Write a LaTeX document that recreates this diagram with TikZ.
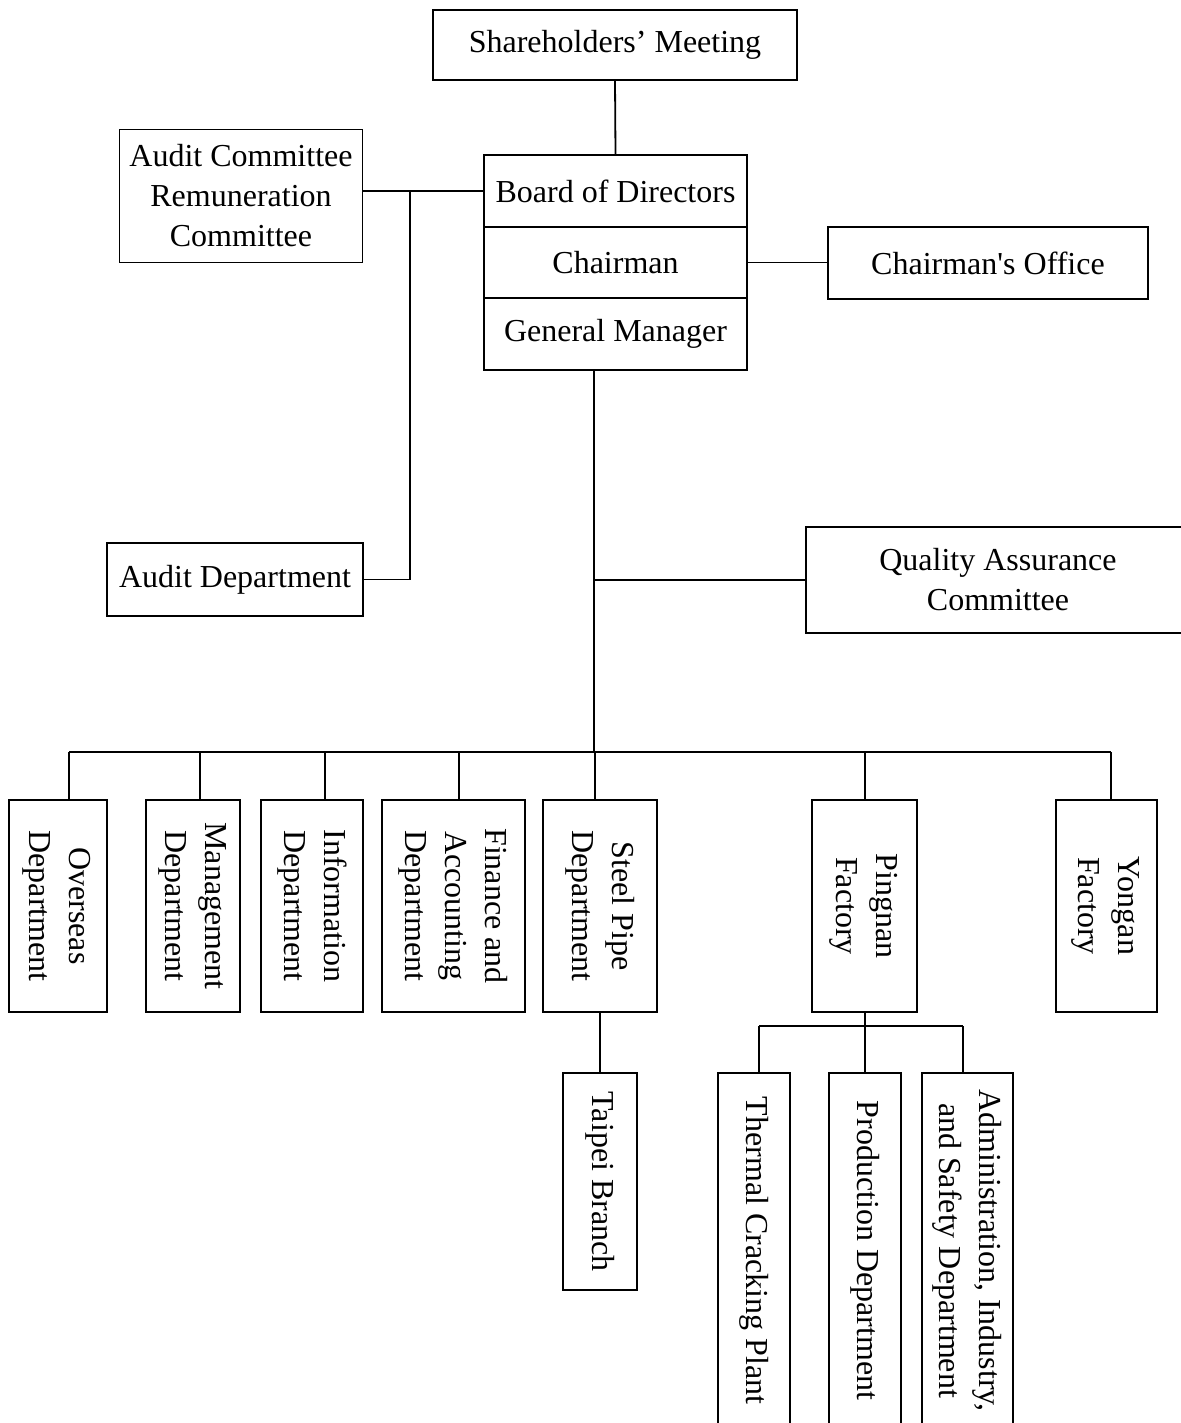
\documentclass[tikz,border=0pt]{standalone}
\usepackage{fontspec}
\setmainfont{Liberation Serif}
\usepackage{graphicx}
\newcommand{\vtext}[1]{\rotatebox{-90}{\begin{tabular}{@{}c@{}}#1\end{tabular}}}
\begin{document}
\begin{tikzpicture}[x=0.5pt,y=-0.5pt,
  box/.style={draw, line width=0.9pt, inner sep=0pt, align=center, fill=white,
    font=\fontsize{16}{20}\selectfont},
  link/.style={line width=0.9pt}]
\useasboundingbox (0,0) rectangle (1181,1423);
% top
\node[box, minimum width=182pt, minimum height=35pt] (sh) at (615,45) {Shareholders' Meeting};
\node[box, minimum width=131.5pt, minimum height=36pt] (bod) at (615.5,191) {Board of Directors};
\node[box, minimum width=131.5pt, minimum height=35.5pt] (ch) at (615.5,262.5) {Chairman};
\node[box, minimum width=131.5pt, minimum height=36pt] (gm) at (615.5,334) {General Manager};
\node[box, minimum width=121.5pt, minimum height=66.5pt] (ac) at (241,196) {Audit Committee\\Remuneration\\Committee};
\node[box, minimum width=128pt, minimum height=36.5pt] (ad) at (235,579.5) {Audit Department};
\node[box, minimum width=160pt, minimum height=36pt] (co) at (988,263) {Chairman\textquotesingle s Office};
\node[box, minimum width=192pt, minimum height=53pt] (qa) at (998,580) {Quality Assurance\\Committee};
% bottom row
\node[box, minimum width=49pt, minimum height=106pt] (ov) at (58,906) {\vtext{Overseas\\Department}};
\node[box, minimum width=47pt, minimum height=106pt] (mg) at (193,906) {\vtext{Management\\Department}};
\node[box, minimum width=51pt, minimum height=106pt] (inf) at (312,906) {\vtext{Information\\Department}};
\node[box, minimum width=71.5pt, minimum height=106pt] (fa) at (453.5,906) {\vtext{Finance and\\Accounting\\Department}};
\node[box, minimum width=57pt, minimum height=106pt] (sp) at (600,906) {\vtext{Steel Pipe\\Department}};
\node[box, minimum width=52.5pt, minimum height=106pt] (pn) at (864.5,906) {\vtext{Pingnan\\Factory}};
\node[box, minimum width=50.5pt, minimum height=106pt] (yo) at (1106.5,906) {\vtext{Yongan\\Factory}};
% third level
\node[box, minimum width=37pt, minimum height=108.5pt] (tb) at (600,1181.5) {\vtext{Taipei Branch}};
\node[box, minimum width=36pt, minimum height=177.5pt] (tc) at (754,1250.5) {\vtext{Thermal Cracking Plant}};
\node[box, minimum width=36pt, minimum height=177.5pt] (pd) at (865,1250.5) {\vtext{Production Department}};
\node[box, minimum width=45.5pt, minimum height=177.5pt] (ai) at (967.5,1250.5) {\vtext{Administration, Industry,\\and Safety Department}};
% coordinates
\coordinate (av) at (410,191);
\coordinate (gx) at (594,370);
\coordinate (bus) at (594,752);
\coordinate (bl) at (69,752);
\coordinate (br) at (1111,752);
\coordinate (d2) at (200,752);
\coordinate (d3) at (325,752);
\coordinate (d4) at (459,752);
\coordinate (d5) at (595,752);
\coordinate (d6) at (865,752);
\coordinate (pb) at (865,1026);
\coordinate (pbl) at (759,1026);
\coordinate (pbr) at (963,1026);
% connectors
\draw[link] (sh.south) -- (bod.north);
\draw[link] (ac.east |- bod.west) -- (bod.west);
\draw[link] (av) |- (ad.east);
\draw[link] (ch.east) -- (ch.east -| co.west);
\draw[link] (gx) -- (bus);
\draw[link] (gx |- qa.west) -- (qa.west);
\draw[link] (bl) -- (br);
\draw[link] (bl) -- (bl |- ov.north);
\draw[link] (d2) -- (d2 |- mg.north);
\draw[link] (d3) -- (d3 |- inf.north);
\draw[link] (d4) -- (d4 |- fa.north);
\draw[link] (d5) -- (d5 |- sp.north);
\draw[link] (d6) -- (d6 |- pn.north);
\draw[link] (br) -- (br |- yo.north);
\draw[link] (sp.south) -- (tb.north);
\draw[link] (pb |- pn.south) -- (pb);
\draw[link] (pbl) -- (pbr);
\draw[link] (pbl) -- (pbl |- tc.north);
\draw[link] (pb) -- (pb |- pd.north);
\draw[link] (pbr) -- (pbr |- ai.north);
\end{tikzpicture}
\end{document}
